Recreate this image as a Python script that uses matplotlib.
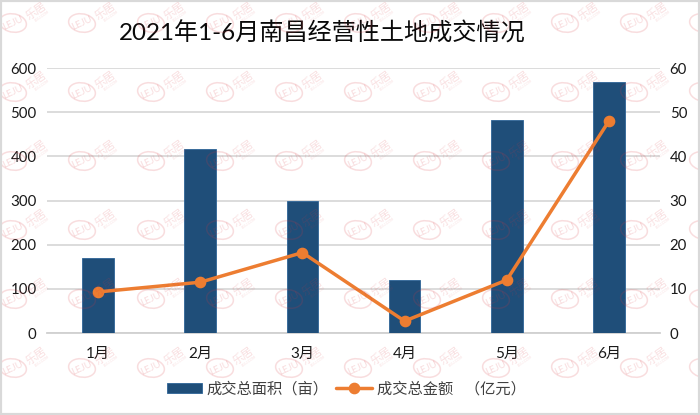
#!/usr/bin/env python3
import matplotlib
matplotlib.use('Agg')
import matplotlib.pyplot as plt
from matplotlib.patches import Ellipse, Rectangle

plt.rcParams['font.family'] = ['Lato', 'Noto Sans CJK SC', 'DejaVu Sans']

months = ['1月', '2月', '3月', '4月', '5月', '6月']
area = [170, 417, 298, 120, 482, 568]
amount = [9.3, 11.5, 18.2, 2.7, 12.0, 48.0]
area_ticks = [0, 100, 200, 300, 400, 500, 600]
amount_ticks = [0, 10, 20, 30, 40, 50, 60]

W, H = 700, 415
fig = plt.figure(figsize=(W/100, H/100), dpi=100, facecolor='white')
ax = fig.add_axes([47/W, (H-333)/H, 613/W, 265/H])
ax2 = ax.twinx()

x = list(range(len(months)))
ax.bar(x, area, width=0.31, color='#1f4e79', edgecolor='#2e6496', linewidth=0.6, zorder=3,
       label='成交总面积（亩）')
ax2.plot(x, amount, color='#ed7d31', linewidth=2.5, marker='o', markersize=7.4,
         label='成交总金额   （亿元）', solid_capstyle='round')

ax.set_xlim(-0.5, 5.5)
ax.set_ylim(0, 600)
ax2.set_ylim(0, 60)
ax.set_yticks(area_ticks)
ax2.set_yticks(amount_ticks)
ax.set_xticks(x)
ax.set_xticklabels(months)
ax.grid(axis='y', color='#d9d9d9', linewidth=1.3, zorder=0)
ax.set_axisbelow(True)
for a in (ax, ax2):
  for s in a.spines.values():
    s.set_visible(False)
  a.tick_params(length=0, labelsize=10.8, colors='#1a1a1a')
ax.spines['bottom'].set_visible(True)
ax.spines['bottom'].set_color('#d0d0d0')
ax.spines['bottom'].set_linewidth(1.3)
ax.tick_params(axis='x', pad=10, labelsize=11)
ax.tick_params(axis='y', pad=7.5)
ax2.tick_params(axis='y', pad=7)

fig.text(322.5/W, (H-33)/H, '2021年1-6月南昌经营性土地成交情况', fontsize=17.4,
         ha='center', va='center', color='#0a0a0a')

h1, l1 = ax.get_legend_handles_labels()
h2, l2 = ax2.get_legend_handles_labels()
fig.legend(h1+h2, l1+l2, ncol=2, frameon=False, loc='center', bbox_to_anchor=(346/W, (H-389)/H),
           fontsize=11, labelcolor='#404040', columnspacing=0.5, handletextpad=0.33, handlelength=2.3)

# watermark tiles, the last column only shows the edge of its ring
wm_color = '#d9363e'
for i in range(11):
  for j in range(6):
    cx = 13 + i*69
    cy = 23 + j*69
    fig.add_artist(Ellipse((cx/W, (H-cy)/H), 26/W, 19/H, angle=20, fill=False, edgecolor=wm_color,
                           linewidth=1.1, alpha=0.17, zorder=6))
    if i == 10:
      continue
    fig.text(cx/W, (H-cy)/H, 'LEJU', fontsize=7, color=wm_color, alpha=0.18, rotation=25,
             ha='center', va='center', zorder=6)
    fig.text((cx+23)/W, (H-cy+12)/H, '乐居', fontsize=8, color=wm_color, alpha=0.16, rotation=35,
             ha='center', va='center', zorder=6)
    fig.text((cx+29)/W, (H-cy+7)/H, 'LEJU.COM', fontsize=2.5, color=wm_color, alpha=0.16, rotation=35,
             ha='center', va='center', zorder=6)

# outer frame
fig.add_artist(Rectangle((0, 0), 1, 1, fill=False, edgecolor='#d9d9d9', linewidth=3,
                         transform=fig.transFigure, zorder=7))

fig.savefig('out.png', dpi=100)
